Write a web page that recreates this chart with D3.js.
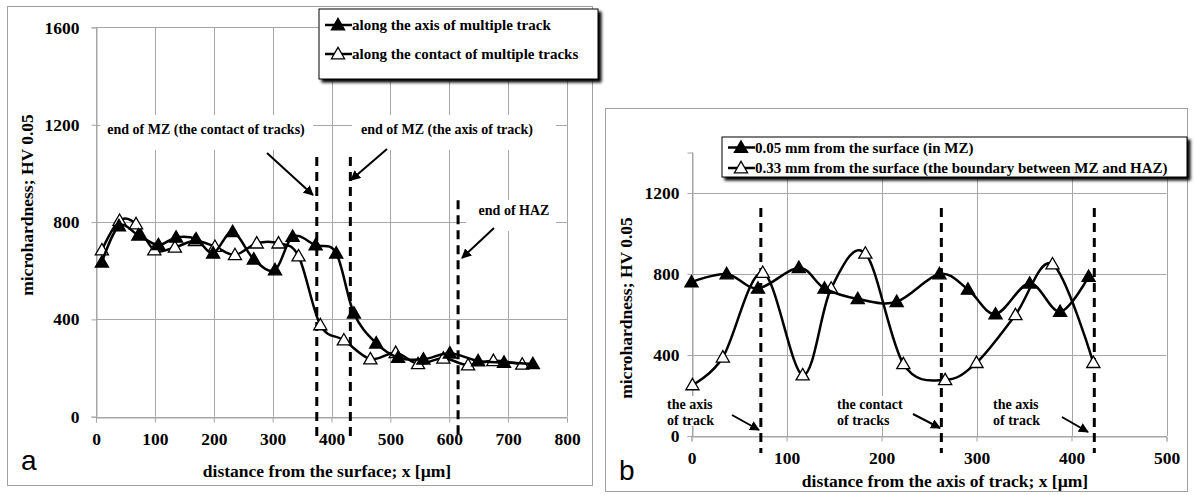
<!DOCTYPE html>
<html><head><meta charset="utf-8">
<script src="https://cdn.jsdelivr.net/npm/d3@7"></script>
<style>
html,body{margin:0;padding:0;background:#fff;}
svg{display:block;}
svg text{font-family:"Liberation Serif","Times New Roman","DejaVu Serif",serif !important;font-weight:bold;fill:#000;}
svg text.letter{font-family:"Liberation Sans",Arial,sans-serif !important;font-weight:normal;}
</style></head>
<body>
<svg id="chart" width="1194" height="495"></svg>
<script>
// ---------- DATA (panel a) ----------
const aAxisX = [10,39,72,106,136,170,199,232,268,304,334,373,408,438,476,513,556,601,649,693,742];
const aAxisY = [635,784,746,706,737,730,672,760,647,603,740,705,672,425,302,243,236,261,229,223,217];
const aContactX = [10,40,68,99,134,168,202,236,273,310,344,381,421,466,509,547,590,632,675,724];
const aContactY = [685,806,792,685,696,723,699,665,713,713,660,377,315,237,263,217,240,212,230,215];
const aXTicks = [0,100,200,300,400,500,600,700,800];
const aYTicks = [0,400,800,1200,1600];
const aSeriesNames = ["along the axis of multiple track","along the contact of multiple tracks"];
const aMarkerX = [375,432,615];         // dashed vertical lines
const aMarkerTop = [1067,1067,890];
// ---------- DATA (panel b) ----------
const bSurfX = [0,37,70,113,140,175,216,261,291,320,356,388,418];
const bSurfY = [760,800,729,831,729,677,663,800,724,602,754,614,787];
const bBoundX = [1,33,75,117,147,183,223,267,300,341,380,423];
const bBoundY = [252,389,807,301,729,902,356,277,362,598,849,362];
const bXTicks = [0,100,200,300,400,500];
const bYTicks = [0,400,800,1200];
const bSeriesNames = ["0.05 mm from the surface (in MZ)","0.33 mm from the surface (the boundary between MZ and HAZ)"];
const bMarkerX = [73,263,424];
const bLabels = [["the axis","of track"],["the contact","of tracks"],["the axis","of track"]];

const svg = d3.select("#chart");
const defs = svg.append("defs");
const f = defs.append("filter").attr("id","shadow").attr("x","-10%").attr("y","-20%").attr("width","130%").attr("height","160%");
f.append("feGaussianBlur").attr("in","SourceAlpha").attr("stdDeviation",1.5).attr("result","b");
f.append("feOffset").attr("in","b").attr("dx",3).attr("dy",3).attr("result","o");
const fm = f.append("feMerge"); fm.append("feMergeNode").attr("in","o"); fm.append("feMergeNode").attr("in","SourceGraphic");
defs.append("marker").attr("id","arrow").attr("viewBox","0 0 10 10").attr("refX",9).attr("refY",5)
  .attr("markerWidth",5).attr("markerHeight",5).attr("orient","auto")
  .append("path").attr("d","M0,0 L10,5 L0,10 z").attr("fill","#000");

const tri = d3.symbol().type(d3.symbolTriangle).size(75);
const GRID = "#a6a6a6";

function panel(o){
  const g = svg.append("g");
  g.append("rect").attr("x",o.box[0]+0.5).attr("y",o.box[1]+0.5).attr("width",o.box[2]-o.box[0]).attr("height",o.box[3]-o.box[1])
    .attr("fill","#fff").attr("stroke","#a0a0a0").attr("stroke-width",1);
  const x = o.x, y = o.y;
  g.append("g").selectAll("line").data(o.yTicks).join("line")
    .attr("x1",x.range()[0]).attr("x2",x.range()[1]).attr("y1",d=>Math.round(y(d))+0.5).attr("y2",d=>Math.round(y(d))+0.5)
    .attr("stroke",GRID);
  g.append("g").selectAll("line").data(o.xTicks).join("line")
    .attr("x1",d=>Math.round(x(d))+0.5).attr("x2",d=>Math.round(x(d))+0.5).attr("y1",y.range()[0]).attr("y2",y.range()[1])
    .attr("stroke",GRID);
  const xa = g.append("g").attr("transform",`translate(0,${Math.round(y(0))+0.5})`)
    .call(d3.axisBottom(x).tickValues(o.xTicks).tickFormat(d3.format("d")).tickSize(5).tickPadding(o.xPad));
  const ya = g.append("g").attr("transform",`translate(${Math.round(x(0))+0.5},0)`)
    .call(d3.axisLeft(y).tickValues(o.yTicks).tickFormat(d3.format("d")).tickSize(5).tickPadding(o.yPad));
  [xa,ya].forEach(a=>{a.attr("font-family",null).attr("font-size",null);
    a.select(".domain").attr("stroke",GRID);a.selectAll(".tick line").attr("stroke",GRID);
    a.selectAll("text").style("font-size","17.5px").attr("fill","#000");});
  g.append("text").attr("x",o.xTitle[0]).attr("y",o.xTitle[1]).attr("text-anchor","middle").style("font-size","17.5px").text(o.xTitleText);
  g.append("text").attr("transform",`translate(${o.yTitle[0]},${o.yTitle[1]}) rotate(-90)`).attr("text-anchor","middle").style("font-size","17.5px").text("microhardness; HV 0.05");
  g.append("text").attr("class","letter").attr("x",o.letter[0]).attr("y",o.letter[1]).style("font-size","28px").text(o.letterText);
  return g;
}

function drawSeries(g,x,y,xs,ys,filled){
  const pts = xs.map((d,i)=>[x(d),y(ys[i])]);
  g.append("path").attr("d",d3.line().curve(d3.curveCardinal.tension(0))(pts)).attr("fill","none").attr("stroke","#000").attr("stroke-width",2.5);
  g.append("g").selectAll("path").data(pts).join("path").attr("d",tri).attr("transform",d=>`translate(${d[0]},${d[1]+1})`)
    .attr("fill",filled?"#000":"#fff").attr("stroke","#000").attr("stroke-width",1.3);
}

function legend(g,x0,y0,w,h,ys,names,fs){
  const lg = g.append("g");
  lg.append("rect").attr("x",x0).attr("y",y0).attr("width",w).attr("height",h).attr("fill","#fff").attr("stroke","#000").attr("stroke-width",1).attr("filter","url(#shadow)");
  names.forEach((n,i)=>{
    lg.append("line").attr("x1",x0+6).attr("x2",x0+33).attr("y1",ys[i]).attr("y2",ys[i]).attr("stroke","#000").attr("stroke-width",2.5);
    lg.append("path").attr("d",tri).attr("transform",`translate(${x0+19},${ys[i]+1})`).attr("fill",i===0?"#000":"#fff").attr("stroke","#000").attr("stroke-width",1.3);
    lg.append("text").attr("x",x0+33).attr("y",ys[i]+5).style("font-size",fs+"px").text(n);
  });
}

function noteText(g,lines,x,y,fs,anchor,bg){
  const t = g.append("g");
  if(bg) t.append("rect").attr("x",bg[0]).attr("y",bg[1]).attr("width",bg[2]).attr("height",bg[3]).attr("fill","#fff");
  lines.forEach((l,i)=>t.append("text").attr("x",x).attr("y",y+i*15.5).attr("text-anchor",anchor).style("font-size",fs+"px").text(l));
}
function arrow(g,x1,y1,x2,y2){
  g.append("line").attr("x1",x1).attr("y1",y1).attr("x2",x2).attr("y2",y2).attr("stroke","#000").attr("stroke-width",2).attr("marker-end","url(#arrow)");
}
function dashed(g,x,y1,y2){
  g.append("line").attr("x1",x).attr("x2",x).attr("y1",y1).attr("y2",y2).attr("stroke","#000").attr("stroke-width",3).attr("stroke-dasharray","9,6");
}

// ---------- Panel a ----------
const xA = d3.scaleLinear().domain([0,800]).range([96,567]);
const yA = d3.scaleLinear().domain([0,1600]).range([416.7,27.4]);
const gA = panel({box:[7,6,592,485],x:xA,y:yA,xTicks:aXTicks,yTicks:aYTicks,xPad:10,yPad:12,
  xTitle:[327,477],xTitleText:"distance from the surface; x [\u00b5m]",yTitle:[33,205],letter:[21,470],letterText:"a"});
noteText(gA,["end of MZ (the contact of tracks)"],206,134,14,"middle",[100,115,213,35]);
noteText(gA,["end of MZ (the axis of track)"],447,134,14,"middle",[352,115,204,35]);
noteText(gA,["end of HAZ"],514,215,14,"middle",[466,200,90,31]);
aMarkerX.forEach((m,i)=>dashed(gA,xA(m),yA(aMarkerTop[i]),yA(-82)));
arrow(gA,267,153,313,195);
arrow(gA,387,149,351,180);
arrow(gA,494,228,462,258);
drawSeries(gA,xA,yA,aContactX,aContactY,false);
drawSeries(gA,xA,yA,aAxisX,aAxisY,true);
legend(gA,319,9,279,70,[25,54],aSeriesNames,15);

// ---------- Panel b ----------
const xB = d3.scaleLinear().domain([0,500]).range([691.5,1166.5]);
const yB = d3.scaleLinear().domain([0,1400]).range([436,152.5]);
const gB = panel({box:[605,108,1187,491],x:xB,y:yB,xTicks:bXTicks,yTicks:bYTicks,xPad:10,yPad:8,
  xTitle:[945,487],xTitleText:"distance from the axis of track; x [\u00b5m]",yTitle:[632,308],letter:[619,480],letterText:"b"});
const notePos = [667,837,993];
bLabels.forEach((l,i)=>noteText(gB,l,notePos[i],409,14,"start",[notePos[i]-2,396,72,30]));
bMarkerX.forEach(m=>dashed(gB,xB(m),yB(1126),yB(-84)));
arrow(gB,732,415,759,430);
arrow(gB,913,414,940,428);
arrow(gB,1062,417,1088,432);
drawSeries(gB,xB,yB,bBoundX,bBoundY,false);
drawSeries(gB,xB,yB,bSurfX,bSurfY,true);
legend(gB,722,137,465,40,[147.5,168],bSeriesNames,15);
</script>
</body></html>
